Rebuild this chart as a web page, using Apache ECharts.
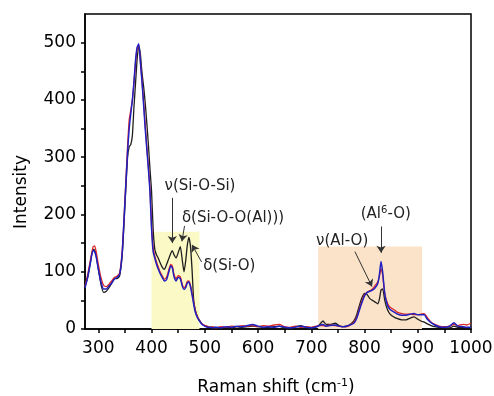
<!DOCTYPE html>
<html>
<head>
<meta charset="utf-8">
<script src="https://cdn.jsdelivr.net/npm/echarts@6/dist/echarts.min.js"></script>
<style>
html,body{margin:0;padding:0;background:#fff;}
#main{width:494px;height:396px;}
</style>
</head>
<body>
<div id="main"></div>
<script>
// Raman shift (cm-1), shared by the three spectra
var shift = [275,280,285,290,293,296,300,305,310,315,320,325,330,335,340,345,350,355,358,361,
  364,367,370,373,376,379,382,385,388,391,394,397,400,403,406,409,412,416,420,424,
  428,432,436,439,442,446,450,454,458,461,464,467,470,473,476,479,482,486,490,495,
  500,505,510,515,520,530,540,550,560,570,580,590,600,610,620,630,640,650,660,670,
  680,690,700,710,715,722,728,735,745,752,760,770,780,785,790,795,800,805,810,815,
  820,825,828,831,834,838,843,848,855,862,870,878,886,893,900,906,912,918,925,932,
  940,950,960,968,975,985,992,1000];

var blackLine = [73,90,115,139,138,128,105,78,64,66,
  72,80,88,88,93,130,215,300,318,322,
  338,388,430,472,494,480,448,424,396,361,
  323,280,241,174,140,130,125,116,108,104,
  112,122,132,137,130,124,133,144,118,100,
  118,145,160,145,105,52,34,22,15,9,
  6,4,3,2,3,2,3,2,4,3,
  4,5,4,3,3,4,5,2,2,4,
  6,3,2,4,7,14,8,8,10,6,
  4,6,14,24,40,54,62,60,53,50,
  47,44,52,68,70,50,34,26,21,18,
  16,16,19,21,17,14,12,9,6,4,
  3,2,2,5,3,3,2,2];

var redLine = [75,95,120,143,145,135,113,90,76,74,
  78,84,90,92,98,138,225,320,365,382,
  400,430,465,490,495,468,435,398,358,320,
  284,245,180,142,128,118,110,100,93,87,
  90,102,113,110,96,88,93,91,77,72,
  75,83,84,77,63,47,33,22,15,9,
  6,5,3,4,2,4,3,5,4,6,
  5,6,4,6,5,7,8,4,3,5,
  3,4,3,5,6,6,5,7,6,5,
  4,5,12,20,34,48,60,64,67,70,
  76,82,92,105,95,62,45,38,34,29,
  27,26,26,25,25,26,27,20,12,8,
  5,4,5,8,6,8,7,10];

var blueLine = [72,90,115,137,135,126,105,82,70,70,
  75,80,87,90,95,135,222,310,350,376,
  400,432,470,492,498,466,432,392,351,315,
  280,240,175,135,124,114,106,97,90,84,
  86,98,110,107,92,84,90,88,74,69,
  72,80,82,74,60,44,30,20,14,8,
  5,3,3,2,3,2,4,3,5,4,
  6,8,5,3,4,3,5,3,2,3,
  5,3,2,4,6,8,5,6,7,5,
  4,6,10,18,32,46,58,64,66,68,
  72,80,95,118,100,62,42,34,30,26,
  24,24,26,27,25,25,25,17,11,7,
  4,3,5,11,5,4,3,3];

var xTicks = [300,350,400,450,500,550,600,650,700,750,800,850,900,950,1000];
var xLabels = [300,400,500,600,700,800,900,1000];
var yTicks = [0,50,100,150,200,250,300,350,400,450,500];
var yLabels = [0,100,200,300,400,500];

// shaded bands [x0, x1, top]
var bandYellow = [400, 490, 170];
var bandOrange = [713, 908, 144];

// annotations: text, text position, arrow start, arrow end
var noteText = ['ν(Si-O-Si)', 'δ(Si-O-O(Al)))', 'δ(Si-O)', 'ν(Al-O)', '(Al{sup|6}-O)'];
var notePos = [[491,250],[553,194],[546,109],[758,153],[840,200]];
var arrowFrom = [[439,229],[462,180],[494,117],[782,135],[831,179]];
var arrowTo = [[439,150],[457,153],[476,147],[814,74],[831,133]];

function pairs(ys){
  return shift.map(function(x,i){ return [x, ys[i]]; });
}

var FONT = 'DejaVu Sans';
var myChart = echarts.init(document.getElementById('main'));

var notePoints = noteText.map(function(t,i){
  return {coord: notePos[i], value: t};
});
var arrows = arrowFrom.map(function(p,i){
  return [{coord: p}, {coord: arrowTo[i]}];
});

var option = {
  animation: false,
  backgroundColor: '#fff',
  grid: {left: 85, right: 23, top: 14, bottom: 67, outerBoundsMode: 'none',
    show: true, borderColor: '#000', borderWidth: 1.5},
  xAxis: {
    type: 'value', min: 275, max: 1000,
    axisLine: {show: true, lineStyle: {color: '#000', width: 1.5}},
    axisTick: {show: true, customValues: xTicks, length: 4, lineStyle: {color: '#000', width: 1.5}},
    axisLabel: {customValues: xLabels, color: '#000', fontFamily: FONT, fontSize: 17, margin: 11,
      formatter: function(v){ return String(v); }},
    splitLine: {show: false}
  },
  yAxis: {
    type: 'value', min: 0, max: 550,
    axisLine: {show: true, lineStyle: {color: '#000', width: 1.5}},
    axisTick: {show: true, customValues: yTicks, length: 4, lineStyle: {color: '#000', width: 1.5}},
    axisLabel: {customValues: yLabels, color: '#000', fontFamily: FONT, fontSize: 17, margin: 9,
      formatter: function(v){ return String(v); }},
    splitLine: {show: false}
  },
  graphic: [
    {type: 'text', x: 22, y: 192, rotation: Math.PI / 2,
     style: {text: 'Intensity', font: '17px "DejaVu Sans"', fill: '#000', textAlign: 'center', textVerticalAlign: 'middle'}},
    {type: 'text', x: 276, y: 388,
     style: {text: 'Raman shift (cm{sup|-1})', font: '17px "DejaVu Sans"', fill: '#000', textAlign: 'center', textVerticalAlign: 'middle',
       rich: {sup: {fontSize: 11, fontFamily: FONT, verticalAlign: 'top', padding: [0,0,9,0]}}}}
  ],
  series: [
    {
      type: 'line', data: [], z: 1, silent: true,
      markArea: {
        silent: true,
        data: [
          [{coord: [bandYellow[0], 0], itemStyle: {color: '#fbfac6'}}, {coord: [bandYellow[1], bandYellow[2]]}],
          [{coord: [bandOrange[0], 0], itemStyle: {color: '#fbe3c9'}}, {coord: [bandOrange[1], bandOrange[2]]}]
        ]
      }
    },
    {type: 'line', data: pairs(blackLine), showSymbol: false, smooth: 0.2, z: 3,
     lineStyle: {color: '#1e1e1e', width: 1.3}},
    {type: 'line', data: pairs(redLine), showSymbol: false, smooth: 0.2, z: 4,
     lineStyle: {color: '#dc2828', width: 1.3}},
    {type: 'line', data: pairs(blueLine), showSymbol: false, smooth: 0.2, z: 5,
     lineStyle: {color: '#2020c0', width: 1.5},
     markLine: {
       silent: true, symbol: ['none', 'arrow'], symbolSize: 7,
       lineStyle: {color: '#333', width: 1, type: 'solid'},
       itemStyle: {color: '#333'},
       label: {show: false},
       data: arrows
     },
     markPoint: {
       silent: true, symbol: 'circle', symbolSize: 0,
       label: {show: true, position: 'inside', color: '#222', fontFamily: FONT, fontSize: 15,
         formatter: function(p){ return p.value; },
         rich: {sup: {fontSize: 10, fontFamily: FONT, color: '#222', verticalAlign: 'top', padding: [0,0,8,0]}}},
       data: notePoints
     }}
  ]
};
myChart.setOption(option);
</script>
</body>
</html>
